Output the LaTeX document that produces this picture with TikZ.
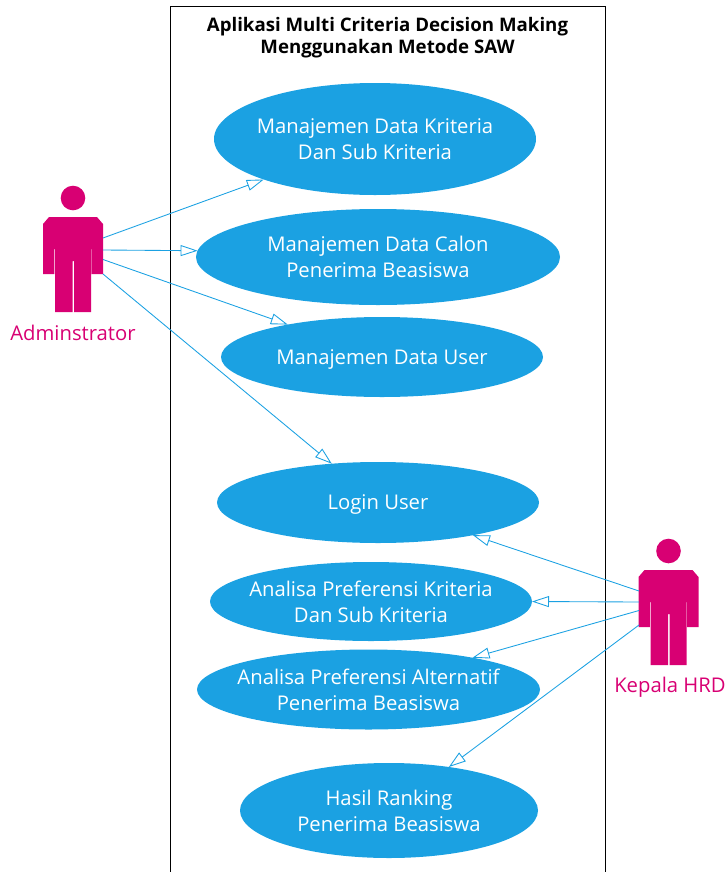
\documentclass[tikz,border=0pt]{standalone}
\usepackage{fontspec}
\setmainfont{Open Sans}
\usetikzlibrary{shapes.geometric,arrows.meta}

\definecolor{ucblue}{HTML}{1BA1E2}
\definecolor{actmagenta}{HTML}{D80073}

\tikzset{
  usecase/.style={ellipse, fill=ucblue, text=white, align=center, inner sep=-14pt, outer sep=0pt,
    font=\fontsize{15.2}{19.5}\selectfont},
  ucsize/.style 2 args={minimum width=#1*0.75pt, minimum height=#2*0.75pt},
  actorlabel/.style={text=actmagenta, inner sep=0pt, font=\fontsize{15.2}{18}\selectfont},
  titlelabel/.style={align=center, inner sep=0pt, font=\fontsize{14}{16}\selectfont\bfseries},
  assoc/.style={ucblue, line width=0.65pt, -{Triangle[open, fill=white, length=12.75pt, width=8.25pt]}},
  actorfig/.pic={
    \fill [actmagenta] (0,0) circle (12.3);
    \fill [actmagenta] (-30,26) -- (-24,19) -- (24,19) -- (30,26) -- (30,76) -- (18.6,76) -- (18.6,51)
      -- (18,51) -- (18,114) -- (1,114) -- (1,63) -- (-0.4,63) -- (-0.4,114) -- (-18,114) -- (-18,51)
      -- (-18.6,51) -- (-18.6,76) -- (-30,76) -- cycle;
  }
}

\begin{document}
\begin{tikzpicture}[x=0.75pt, y=-0.75pt]
\useasboundingbox (0,0) rectangle (727,872);

% System boundary
\draw [line width=0.75pt] (170,872) -- (170,6) -- (605,6) -- (605,872);
\node (title) [titlelabel] at (387.5,37.5) {Aplikasi Multi Criteria Decision Making\\Menggunakan Metode SAW};

% Use cases
\node (kriteria) [usecase, ucsize={322}{112}] at (375,139) {Manajemen Data Kriteria\\Dan Sub Kriteria};
\node (calon)    [usecase, ucsize={364}{96}]  at (378,257) {Manajemen Data Calon\\Penerima Beasiswa};
\node (user)     [usecase, ucsize={322}{80}, text depth=0pt]  at (382,357) {Manajemen Data User};
\node (login)    [usecase, ucsize={322}{81}, text depth=0pt]  at (378,502.5) {Login User};
\node (prefkrit) [usecase, ucsize={322}{79}]  at (371,601.5) {Analisa Preferensi Kriteria\\Dan Sub Kriteria};
\node (prefalt)  [usecase, ucsize={343}{80}]  at (368.5,689.5) {Analisa Preferensi Alternatif\\Penerima Beasiswa};
\node (ranking)  [usecase, ucsize={298}{95}]  at (389,810.5) {Hasil Ranking\\Penerima Beasiswa};

% Actors
\pic at (73,198) {actorfig};
\node (adminlabel) [actorlabel] at (73,333) {Adminstrator};
\pic at (668.5,551) {actorfig};
\node (hrdlabel) [actorlabel] at (670,687) {Kepala HRD};

\coordinate (adminA) at (103,238);
\coordinate (adminB) at (103,250);
\coordinate (adminC) at (103,259.5);
\coordinate (adminD) at (103,274);
\coordinate (hrdA) at (639,591);
\coordinate (hrdB) at (639,602);
\coordinate (hrdC) at (639,610.5);
\coordinate (hrdD) at (639,625);

% Associations
\draw [assoc] (adminA) -- (kriteria.200);
\draw [assoc] (adminB) -- (calon.178.4);
\draw [assoc] (adminC) -- (user.161.5);
\draw [assoc] (adminD) -- (login.140);
\draw [assoc] (hrdA) -- (login.-19);
\draw [assoc] (hrdB) -- (prefkrit.east);
\draw [assoc] (hrdC) -- (prefalt.17.2);
\draw [assoc] (hrdD) -- (ranking.36.7);

\end{tikzpicture}
\end{document}
